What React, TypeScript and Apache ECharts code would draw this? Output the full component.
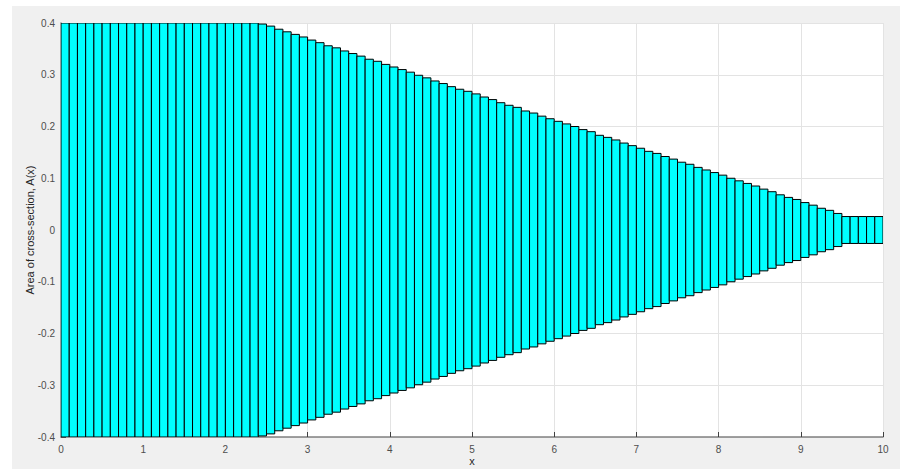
import React, { useEffect, useRef } from "react";
import * as echarts from "echarts";

// Bin width along x (each bar spans [x, x + binWidth])
const binWidth = 0.1;

// Half-area values A(x) for the 100 bins starting at x = 0, 0.1, ..., 9.9
const areaValues: number[] = [
  // 0.0 – 2.3
  0.4, 0.4, 0.4, 0.4, 0.4, 0.4, 0.4, 0.4, 0.4, 0.4,
  0.4, 0.4, 0.4, 0.4, 0.4, 0.4, 0.4, 0.4, 0.4, 0.4,
  0.4, 0.4, 0.4, 0.4,
  // 2.4 – 3.3
  0.398, 0.394, 0.388, 0.383, 0.378, 0.373, 0.367, 0.362, 0.356, 0.352,
  // 3.4 – 4.3
  0.346, 0.341, 0.336, 0.33, 0.326, 0.32, 0.315, 0.31, 0.305, 0.299,
  // 4.4 – 5.3
  0.294, 0.288, 0.283, 0.277, 0.272, 0.268, 0.263, 0.257, 0.252, 0.246,
  // 5.4 – 6.3
  0.241, 0.237, 0.23, 0.226, 0.22, 0.215, 0.21, 0.205, 0.2, 0.194,
  // 6.4 – 7.3
  0.19, 0.183, 0.179, 0.174, 0.168, 0.163, 0.158, 0.152, 0.148, 0.142,
  // 7.4 – 8.3
  0.137, 0.131, 0.127, 0.121, 0.116, 0.111, 0.106, 0.1, 0.095, 0.09,
  // 8.4 – 9.3
  0.085, 0.079, 0.074, 0.068, 0.063, 0.059, 0.053, 0.048, 0.042, 0.038,
  // 9.4 – 9.9
  0.032, 0.026, 0.026, 0.026, 0.026, 0.026,
];

// Bin start positions
const binStarts: number[] = areaValues.map((_, i) => Math.round(i * binWidth * 10) / 10);

const xTicks = { min: 0, max: 10, interval: 1 };
const yTicks = { min: -0.4, max: 0.4, interval: 0.1 };

const xLabel = "x";
const yLabel = "Area of cross-section, A(x)";

export default function App() {
  const ref = useRef<HTMLDivElement>(null);

  useEffect(() => {
    document.body.style.margin = "0";
    if (!ref.current) return;
    const chart = echarts.init(ref.current, undefined, { renderer: "svg" });

    const data = binStarts.map((x0, i) => [x0, x0 + binWidth, areaValues[i]]);

    const font = "'Liberation Sans', Arial, Helvetica, sans-serif";

    chart.setOption({
      animation: false,
      backgroundColor: "#f0f0f0",
      grid: {
        left: 49,
        top: 17,
        right: 17,
        bottom: 32,
        show: true,
        backgroundColor: "#ffffff",
        borderWidth: 0,
        containLabel: false,
        outerBoundsMode: "none",
      },
      xAxis: {
        type: "value",
        min: xTicks.min,
        max: xTicks.max,
        interval: xTicks.interval,
        name: xLabel,
        nameLocation: "middle",
        nameGap: 18,
        nameMoveOverlap: false,
        nameTextStyle: { color: "#262626", fontSize: 11, fontFamily: font },
        axisLine: { show: true, onZero: false, lineStyle: { color: "#808080", width: 1.5 } },
        axisTick: { show: true, inside: true, length: 5, lineStyle: { color: "#404040", width: 1 } },
        axisLabel: { color: "#4d4d4d", fontSize: 10, fontFamily: font, margin: 7 },
        splitLine: { show: true, lineStyle: { color: "#e3e3e3", width: 1 } },
      },
      yAxis: {
        type: "value",
        min: yTicks.min,
        max: yTicks.max,
        interval: yTicks.interval,
        name: yLabel,
        nameLocation: "middle",
        nameGap: 26,
        nameMoveOverlap: false,
        nameTextStyle: { color: "#262626", fontSize: 11, fontFamily: font },
        axisLine: { show: true, onZero: false, lineStyle: { color: "#808080", width: 1.5 } },
        axisTick: { show: true, inside: true, length: 5, lineStyle: { color: "#404040", width: 1 } },
        axisLabel: {
          color: "#4d4d4d",
          fontSize: 10,
          fontFamily: font,
          margin: 6,
          formatter: (v: number) => {
            const r = Math.round(v * 10) / 10;
            return r === 0 ? "0" : String(r);
          },
        },
        splitLine: { show: true, lineStyle: { color: "#e3e3e3", width: 1 } },
      },
      series: [
        {
          type: "custom",
          data,
          encode: { x: [0, 1], y: 2 },
          clip: true,
          renderItem: (params: any, api: any) => {
            const x0 = api.value(0);
            const x1 = api.value(1);
            const v = api.value(2);
            const p1 = api.coord([x0, v]);
            const p2 = api.coord([x1, -v]);
            return {
              type: "rect",
              shape: {
                x: p1[0],
                y: p1[1],
                width: p2[0] - p1[0],
                height: p2[1] - p1[1],
              },
              style: { fill: "#00ffff", stroke: "#000000", lineWidth: 1 },
            };
          },
        },
      ],
    });

    return () => {
      chart.dispose();
    };
  }, []);

  return (
    <div style={{ position: "relative", width: 904, height: 469, background: "#ffffff" }}>
      <div
        ref={ref}
        style={{ position: "absolute", left: 12, top: 6, width: 888, height: 463 }}
      />
    </div>
  );
}
